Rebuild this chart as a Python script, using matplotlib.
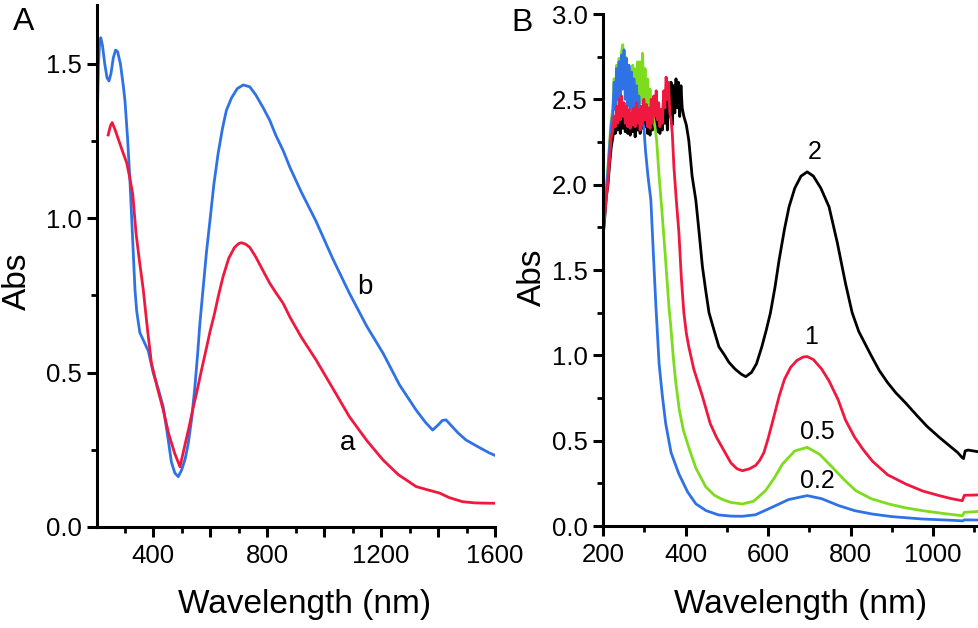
import matplotlib
matplotlib.use('Agg')
import matplotlib.pyplot as plt
from matplotlib.ticker import MultipleLocator, FuncFormatter

plt.rcParams['font.family'] = ['Liberation Sans', 'DejaVu Sans']

# ---------------- Panel A data ----------------
a_wl = [242, 250, 256, 265, 280, 295, 307, 318, 328, 340, 352, 365, 380, 394,
        415, 435, 455, 475, 494, 510, 525, 540, 555, 570, 587, 600, 615, 628,
        645, 665, 685, 700, 710, 725, 739, 760, 780, 809, 830, 856, 880, 920,
        972, 1030, 1089, 1150, 1207, 1260, 1323, 1365, 1405, 1440, 1486, 1530,
        1580, 1600]
a_abs = [1.27, 1.30, 1.31, 1.29, 1.25, 1.21, 1.18, 1.13, 1.08, 0.95, 0.86, 0.77, 0.64, 0.53,
         0.45, 0.38, 0.30, 0.24, 0.195, 0.26, 0.32, 0.385, 0.445, 0.51, 0.58, 0.635, 0.69, 0.745,
         0.81, 0.87, 0.905, 0.918, 0.921, 0.916, 0.906, 0.875, 0.84, 0.79, 0.76, 0.725, 0.68, 0.615,
         0.541, 0.45, 0.357, 0.28, 0.217, 0.17, 0.131, 0.12, 0.11, 0.095, 0.082, 0.078,
         0.077, 0.077]

b_wl = [205, 208, 212, 216, 222, 230, 238, 245, 252, 260, 268, 275, 285, 295,
        301, 310, 318, 327, 336, 342, 353, 368, 383, 400, 420, 435, 450, 464,
        476, 488, 500, 512, 523, 535, 546, 556, 564, 575, 587, 599, 613, 628,
        643, 657, 675, 695, 716, 739, 760, 785, 809, 830, 856, 880, 920, 972,
        1030, 1089, 1150, 1207, 1265, 1323, 1355, 1381, 1400, 1415, 1428, 1445,
        1470, 1498, 1540, 1580, 1600]
b_abs = [1.38, 1.50, 1.57, 1.585, 1.56, 1.50, 1.455, 1.445, 1.47, 1.52, 1.545, 1.54, 1.50, 1.43,
         1.38, 1.26, 1.13, 0.95, 0.77, 0.70, 0.63, 0.60, 0.57, 0.50, 0.44, 0.39, 0.30, 0.21,
         0.175, 0.163, 0.185, 0.22, 0.27, 0.35, 0.45, 0.56, 0.66, 0.77, 0.89, 0.99, 1.11, 1.21,
         1.29, 1.35, 1.39, 1.42, 1.432, 1.426, 1.40, 1.36, 1.318, 1.27, 1.22, 1.165, 1.085, 0.99,
         0.87, 0.757, 0.65, 0.563, 0.46, 0.379, 0.34, 0.314, 0.33, 0.345, 0.347, 0.33,
         0.305, 0.282, 0.26, 0.24, 0.232]

# ---------------- Panel B data ----------------
c02_wl = [200, 204, 208, 212, 216, 220, 224,
          227, 230, 233, 236, 239, 242, 245, 248, 251, 254, 257, 260, 263, 266, 269, 272,
          275, 278, 281, 284, 287, 290, 293, 296, 299,
          303, 309, 316, 322, 328, 336, 344, 352, 365, 384, 405, 425, 450, 480, 510, 538,
          570, 610, 650, 695, 730, 772, 810, 853, 900, 974, 1050, 1072, 1076, 1110]
c02_abs = [1.70, 1.86, 1.95, 2.08, 2.22, 2.35, 2.42,
           2.60, 2.44, 2.68, 2.50, 2.72, 2.48, 2.76, 2.56, 2.79, 2.50, 2.74, 2.46, 2.70, 2.44, 2.66, 2.42,
           2.62, 2.38, 2.58, 2.40, 2.52, 2.37, 2.46, 2.36, 2.34,
           2.20, 2.05, 1.91, 1.60, 1.30, 0.95, 0.76, 0.60, 0.43, 0.305, 0.20, 0.13, 0.09, 0.065, 0.058, 0.057,
           0.066, 0.11, 0.155, 0.178, 0.16, 0.119, 0.09, 0.07, 0.055, 0.041, 0.033, 0.03, 0.036, 0.035]

c05_wl = [200, 204, 208, 212, 216, 220, 224,
          227, 230, 233, 236, 239, 242, 245, 248, 251, 254, 257, 260, 263, 266, 269, 272,
          275, 278, 281, 284, 287, 290, 293, 296, 299, 302, 305, 308, 311, 314, 317, 320, 323, 326,
          330, 336, 344, 352, 360, 364, 370, 376, 385, 395, 408, 425, 449, 470, 490, 510, 538,
          565, 594, 615, 635, 665, 695, 725, 756, 785, 813, 850, 893, 930, 974, 1020, 1071,
          1076, 1110]
c05_abs = [1.70, 1.88, 1.98, 2.10, 2.25, 2.38, 2.45,
           2.62, 2.50, 2.70, 2.52, 2.74, 2.55, 2.78, 2.82, 2.60, 2.75, 2.52, 2.70, 2.50, 2.68, 2.48, 2.70,
           2.50, 2.68, 2.46, 2.72, 2.50, 2.72, 2.48, 2.77, 2.50, 2.68, 2.44, 2.62, 2.42, 2.56, 2.40, 2.50, 2.38, 2.34,
           2.26, 2.05, 1.81, 1.55, 1.28, 1.18, 1.00, 0.85, 0.68, 0.56, 0.46, 0.34, 0.23, 0.18, 0.155, 0.138, 0.129,
           0.145, 0.207, 0.28, 0.363, 0.44, 0.461, 0.42, 0.344, 0.27, 0.207, 0.16, 0.129, 0.108, 0.09, 0.075, 0.06,
           0.08, 0.085]

c1_wl = [200, 204, 208, 212, 216, 220, 224,
         227, 230, 233, 236, 239, 242, 245, 248, 251, 254, 257, 260, 263, 266, 269, 272,
         275, 278, 281, 284, 287, 290, 293, 296, 299, 302, 305, 308, 311, 314, 317, 320,
         323, 326, 329, 332, 335, 338, 341, 344, 347, 350, 353, 356, 359, 362, 365,
         368, 372, 378, 384, 390, 396, 402, 408, 420, 441, 460, 475, 489, 510, 525, 538,
         555, 570, 580, 590, 600, 612, 627, 640, 655, 670, 685, 695, 710, 730, 748, 770,
         788, 810, 830, 853, 890, 934, 975, 1015, 1045, 1071, 1076, 1110]
c1_abs = [1.68, 1.82, 1.92, 2.02, 2.15, 2.28, 2.32,
          2.40, 2.34, 2.46, 2.36, 2.50, 2.38, 2.52, 2.40, 2.48, 2.36, 2.46, 2.34, 2.44, 2.33, 2.42, 2.35,
          2.45, 2.34, 2.48, 2.36, 2.44, 2.32, 2.46, 2.35, 2.50, 2.38, 2.47, 2.34, 2.45, 2.33, 2.50, 2.36,
          2.52, 2.40, 2.55, 2.38, 2.48, 2.34, 2.44, 2.36, 2.55, 2.45, 2.63, 2.50, 2.60, 2.42, 2.38,
          2.30, 2.10, 1.90, 1.72, 1.45, 1.25, 1.13, 1.05, 0.92, 0.76, 0.60, 0.52, 0.46, 0.37, 0.335, 0.324,
          0.335, 0.355, 0.385, 0.43, 0.51, 0.62, 0.76, 0.86, 0.93, 0.97, 0.99, 0.993, 0.975, 0.92, 0.85, 0.74,
          0.62, 0.52, 0.45, 0.38, 0.30, 0.246, 0.205, 0.178, 0.16, 0.148, 0.18, 0.182]

c2_wl = [200, 204, 208, 212, 216, 220, 224,
         227, 230, 233, 236, 239, 242, 245, 248, 251, 254, 257, 260, 263, 266, 269, 272,
         275, 278, 281, 284, 287, 290, 293, 296, 299, 302, 305, 308, 311, 314, 317, 320,
         323, 326, 329, 332, 335, 338, 341, 344, 347, 350, 353, 356, 359, 362, 365, 368,
         371, 374, 377, 380, 383, 386, 389, 392,
         396, 402, 408, 416, 425, 433, 441, 449, 457, 470, 481, 495, 505, 520, 535, 546,
         560, 572, 585, 596, 606, 617, 627, 640, 651, 665, 680, 695, 710, 728, 748, 768,
         788, 804, 820, 837, 852, 870, 890, 910, 934, 960, 985, 1015, 1040, 1060, 1071,
         1074, 1078, 1085, 1110]
c2_abs = [1.70, 1.80, 1.93, 2.00, 2.12, 2.22, 2.28,
          2.35, 2.30, 2.40, 2.32, 2.42, 2.30, 2.44, 2.33, 2.40, 2.31, 2.42, 2.30, 2.38, 2.29, 2.40, 2.31,
          2.36, 2.28, 2.40, 2.32, 2.38, 2.30, 2.42, 2.33, 2.44, 2.34, 2.40, 2.30, 2.38, 2.29, 2.42, 2.32,
          2.45, 2.34, 2.40, 2.31, 2.38, 2.30, 2.42, 2.32, 2.46, 2.36, 2.50, 2.32, 2.55, 2.40, 2.60, 2.35,
          2.58, 2.42, 2.62, 2.45, 2.60, 2.40, 2.58, 2.45,
          2.40, 2.35, 2.26, 2.05, 1.91, 1.72, 1.52, 1.38, 1.25, 1.14, 1.05, 1.00, 0.96, 0.92, 0.89, 0.875,
          0.90, 0.95, 1.05, 1.15, 1.25, 1.40, 1.56, 1.74, 1.87, 1.98, 2.05, 2.075, 2.05, 1.98, 1.87, 1.66,
          1.42, 1.25, 1.14, 1.06, 0.99, 0.91, 0.84, 0.78, 0.72, 0.65, 0.585, 0.52, 0.47, 0.43, 0.40,
          0.395, 0.44, 0.445, 0.435]

for w, v in [(a_wl, a_abs), (b_wl, b_abs), (c02_wl, c02_abs), (c05_wl, c05_abs),
             (c1_wl, c1_abs), (c2_wl, c2_abs)]:
    assert len(w) == len(v), (len(w), len(v), w[0])

# ---------------- colours ----------------
BLUE = '#2f72e6'
RED = '#f0183e'
GREEN = '#7ddc1e'
BLACK = '#000000'

W, H = 979, 628
fig = plt.figure(figsize=(W / 100, H / 100), dpi=100)
axA = fig.add_axes([97.5 / W, 101 / H, (495 - 97.5) / W, 522 / H])
axB = fig.add_axes([603 / W, 102 / H, 376 / W, 512 / H])

LW = 2.0
axA.plot(b_wl, b_abs, color=BLUE, lw=LW)
axA.plot(a_wl, a_abs, color=RED, lw=LW)

axB.plot(c2_wl, c2_abs, color=BLACK, lw=LW)
axB.plot(c05_wl, c05_abs, color=GREEN, lw=LW)
axB.plot(c02_wl, c02_abs, color=BLUE, lw=LW)
axB.plot(c1_wl, c1_abs, color=RED, lw=LW)

axA.set_xlim(204.5, 1600)
axA.set_ylim(0, 1.691)
axB.set_xlim(200, 1111.5)
axB.set_ylim(0, 3.0)

fmt1 = FuncFormatter(lambda v, p: '%.1f' % v)
for ax in (axA, axB):
    for s in ('top', 'right'):
        ax.spines[s].set_visible(False)
    for s in ('left', 'bottom'):
        ax.spines[s].set_linewidth(2.2)
    ax.tick_params(which='major', length=7.5, width=2.2, labelsize=18.5, direction='out')
    ax.tick_params(which='minor', length=4.5, width=2.0, direction='out')
    ax.tick_params(axis='x', pad=5)
    ax.tick_params(axis='y', pad=3.5)
    ax.yaxis.set_major_formatter(fmt1)
    ax.set_facecolor('none')

axA.xaxis.set_major_locator(MultipleLocator(200))
axA.xaxis.set_minor_locator(MultipleLocator(100))
axA.xaxis.set_major_formatter(FuncFormatter(lambda v, p: '%d' % v if round(v) % 400 == 0 else ''))
axA.yaxis.set_major_locator(MultipleLocator(0.5))
axA.yaxis.set_minor_locator(MultipleLocator(0.25))

axB.xaxis.set_major_locator(MultipleLocator(200))
axB.xaxis.set_minor_locator(MultipleLocator(100))
axB.xaxis.set_major_formatter(FuncFormatter(lambda v, p: '%d' % v))
axB.yaxis.set_major_locator(MultipleLocator(0.5))
axB.yaxis.set_minor_locator(MultipleLocator(0.25))


def ftext(x, y, s, size, **kw):
    fig.text(x / W, 1 - y / H, s, fontsize=size, ha='center', va='center', **kw)


ftext(24, 22, 'A', 23)
ftext(522, 23, 'B', 23)
ftext(17, 281, 'Abs', 24, rotation=90)
ftext(532, 277, 'Abs', 24, rotation=90)
ftext(305, 604, 'Wavelength (nm)', 24)
ftext(801, 604, 'Wavelength (nm)', 24)

axA.text(1142, 0.777, 'b', fontsize=20, ha='center', va='center')
axA.text(1082, 0.272, 'a', fontsize=20, ha='center', va='center')
axB.text(714, 2.19, '2', fontsize=18, ha='center', va='center')
axB.text(704, 1.107, '1', fontsize=18, ha='center', va='center')
axB.text(719, 0.55, '0.5', fontsize=18, ha='center', va='center')
axB.text(719, 0.264, '0.2', fontsize=18, ha='center', va='center')

fig.savefig('out.png', dpi=100)
